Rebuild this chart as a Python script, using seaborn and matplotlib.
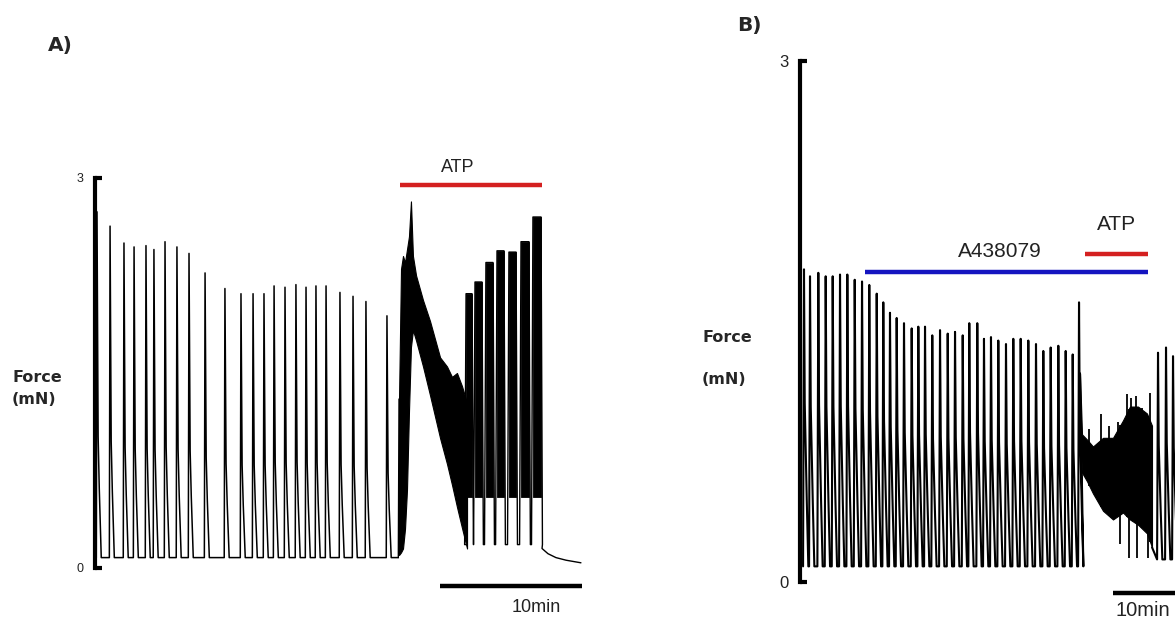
import numpy as np
import pandas as pd
import matplotlib
matplotlib.use("Agg")
import matplotlib.pyplot as plt
import seaborn as sns

# ---------------- Panel A data (time in min, force in mN) ----------------
a_spike_t = [0.07, 0.99, 1.97, 2.68, 3.52, 4.08, 4.86, 5.70, 6.55, 7.68, 9.08, 10.21,
             11.06, 11.83, 12.54, 13.31, 14.08, 14.79, 15.49, 16.20, 17.18, 18.10, 19.01, 20.49]
a_spike_peak = [2.74, 2.63, 2.50, 2.47, 2.48, 2.45, 2.51, 2.47, 2.42, 2.27, 2.15, 2.11,
                2.11, 2.11, 2.17, 2.16, 2.18, 2.16, 2.17, 2.17, 2.12, 2.09, 2.05, 1.94]
a_base = 0.08

a_band_t = [21.34, 21.48, 21.62, 21.76, 21.90, 22.04, 22.18, 22.32, 22.54, 23.03, 23.52,
            24.23, 24.72, 25.07, 25.42, 25.77, 26.13]
a_band_hi = [1.30, 2.30, 2.40, 2.35, 2.45, 2.55, 2.82, 2.40, 2.25, 2.06, 1.90,
             1.62, 1.55, 1.47, 1.50, 1.40, 1.27]
a_band_lo = [0.10, 0.12, 0.15, 0.30, 0.60, 1.20, 1.70, 1.83, 1.75, 1.55, 1.33,
             1.00, 0.80, 0.64, 0.47, 0.31, 0.15]

a_burst_start = [26.06, 26.69, 27.46, 28.24, 29.08, 29.93, 30.77]
a_burst_end = [26.48, 27.18, 27.96, 28.73, 29.58, 30.49, 31.34]
a_burst_top = [2.11, 2.20, 2.35, 2.44, 2.43, 2.51, 2.70]
a_burst_floor = 0.55
a_burst_trough = 0.18

a_tail_t = [31.41, 31.83, 32.39, 33.10, 34.15]
a_tail_y = [0.15, 0.11, 0.08, 0.06, 0.04]

# ---------------- Panel B data ----------------
b_spike_t = [0.16, 1.13, 2.47, 3.66, 4.79, 5.97, 7.15, 8.34, 9.52, 10.69, 11.89, 12.95,
             14.03, 15.11, 16.29, 17.53, 18.60, 19.68, 20.85, 22.10, 23.34, 24.52, 25.76,
             26.82, 28.11, 29.19, 30.32, 31.50, 32.74, 33.92, 35.11, 36.34, 37.58, 38.76,
             39.95, 41.18, 42.37, 43.50, 44.52]
b_spike_peak = [1.80, 1.76, 1.78, 1.76, 1.76, 1.77, 1.77, 1.74, 1.73, 1.71, 1.66, 1.61,
                1.55, 1.52, 1.49, 1.46, 1.47, 1.47, 1.42, 1.45, 1.43, 1.44, 1.42,
                1.49, 1.49, 1.40, 1.41, 1.39, 1.37, 1.40, 1.40, 1.39, 1.37, 1.33,
                1.35, 1.36, 1.33, 1.31, 1.61]
b_base = 0.09

b_band_t = [44.68, 45.00, 45.81, 46.77, 48.39, 50.00, 51.61, 52.74, 54.03, 55.48, 56.29]
b_band_hi = [1.20, 0.85, 0.82, 0.78, 0.83, 0.83, 0.93, 1.01, 1.01, 0.97, 0.90]
b_band_lo = [0.90, 0.63, 0.58, 0.51, 0.41, 0.36, 0.40, 0.36, 0.33, 0.28, 0.20]
b_band_spike_t = [46.2, 48.06, 49.4, 50.8, 52.26, 52.90, 53.71, 54.6, 55.97]
b_band_spike_peak = [0.88, 0.97, 0.90, 0.92, 1.08, 1.06, 1.07, 1.00, 1.09]
b_band_dip_t = [51.2, 52.58, 53.90, 55.65]
b_band_dip_y = [0.22, 0.14, 0.14, 0.14]

b_post_t = [57.26, 58.55, 59.68]
b_post_peak = [1.32, 1.35, 1.30]
b_post_base = 0.13

# ---------------- style ----------------
sns.set_style("white")
plt.rcParams['font.family'] = ['Liberation Sans', 'DejaVu Sans']

W, H = 1175, 620
fig = plt.figure(figsize=(W / 100, H / 100), dpi=100)

RED = '#d42020'
BLUE = '#1414c0'
TXT = '#222222'
BOLD = ['DejaVu Sans']


def spike_path(ts, ps, base, rise, fall1, fall2, end, mid=0.35, low=0.2):
    xs, ys = [], []
    for t, p in zip(ts, ps):
        xs += [t - rise, t, t + fall1, t + fall2, t + end]
        ys += [base, p, base + mid * (p - base), base + low * (p - base), base]
    return xs, ys


def bracket_axis(ax, xpos, labelsize, pad):
    for s in ['top', 'right', 'bottom']:
        ax.spines[s].set_visible(False)
    ax.spines['left'].set_position(('data', xpos))
    ax.spines['left'].set_bounds(0, 3)
    ax.spines['left'].set_linewidth(3)
    ax.spines['left'].set_color('black')
    ax.set_yticks([0, 3])
    ax.set_yticklabels(['0', '3'])
    ax.set_xticks([])
    ax.tick_params(axis='y', left=True, direction='in', length=5, width=3, color='black',
                   labelsize=labelsize, pad=pad, labelcolor=TXT)
    ax.set_facecolor('none')


# ================= Panel A =================
axA = fig.add_axes([60 / W, 0, 560 / W, 1])
axA.set_xlim((60 - 96) / 14.2, (620 - 96) / 14.2)
axA.set_ylim(-(620 - 568) / 130, 568 / 130)

xs, ys = spike_path(a_spike_t, a_spike_peak, a_base, 0.05, 0.08, 0.16, 0.3)
xs = [0.0] + xs + [a_band_t[0] - 0.05]
ys = [0.1] + ys + [a_base]
sns.lineplot(x=xs, y=ys, ax=axA, color='black', lw=1.1, sort=False, estimator=None)

axA.fill_between(a_band_t, a_band_lo, a_band_hi, color='black', lw=0.8, edgecolor='black')
axA.plot([a_band_t[0] - 0.05, a_band_t[0]], [a_base, a_band_hi[0]], color='black', lw=1.0)

bx, by = [a_band_t[-1]], [a_burst_trough]
for s, e, top in zip(a_burst_start, a_burst_end, a_burst_top):
    bx += [s - 0.1, s, e, e + 0.1]
    by += [a_burst_trough, top, top, a_burst_trough]
    axA.fill_between([s, e], [a_burst_floor] * 2, [top] * 2, color='black', lw=0.6,
                     edgecolor='black')
bx += a_tail_t
by += a_tail_y
sns.lineplot(x=bx, y=by, ax=axA, color='black', lw=1.0, sort=False, estimator=None)

bracket_axis(axA, (95 - 96) / 14.2, 9, 8)

axA.plot([(400 - 96) / 14.2, (542 - 96) / 14.2], [2.946, 2.946], color=RED, lw=3.2,
         solid_capstyle='butt')
axA.text((458 - 96) / 14.2, 3.077, 'ATP', ha='center', va='center', fontsize=13, color=TXT)
axA.plot([(440 - 96) / 14.2, (582 - 96) / 14.2], [-0.138, -0.138], color='black', lw=3.2,
         solid_capstyle='butt')
axA.text((536 - 96) / 14.2, -0.30, '10min', ha='center', va='center', fontsize=13, color=TXT)

# ================= Panel B =================
axB = fig.add_axes([700 / W, 0, 475 / W, 1])
axB.set_xlim((700 - 803) / 6.2, (1175 - 803) / 6.2)
axB.set_ylim(-(620 - 582) / 173.7, 582 / 173.7)

xs, ys = spike_path(b_spike_t, b_spike_peak, b_base, 0.15, 0.12, 0.45, 0.7, mid=0.55, low=0.22)
xs = xs + [b_band_t[0]]
ys = ys + [b_band_hi[0]]
sns.lineplot(x=xs, y=ys, ax=axB, color='black', lw=1.5, sort=False, estimator=None)

axB.fill_between(b_band_t, b_band_lo, b_band_hi, color='black', lw=0.8, edgecolor='black')
lvl = np.interp(b_band_spike_t, b_band_t, b_band_lo)
axB.vlines(b_band_spike_t, lvl, b_band_spike_peak, color='black', lw=1.3)
lvl2 = np.interp(b_band_dip_t, b_band_t, b_band_hi)
axB.vlines(b_band_dip_t, b_band_dip_y, lvl2, color='black', lw=1.3)

xs, ys = spike_path(b_post_t, b_post_peak, b_post_base, 0.15, 0.12, 0.45, 0.7, mid=0.55, low=0.22)
xs = [b_band_t[-1]] + xs
ys = [b_band_lo[-1]] + ys
sns.lineplot(x=xs, y=ys, ax=axB, color='black', lw=1.5, sort=False, estimator=None)

bracket_axis(axB, (800 - 803) / 6.2, 12, 8)

axB.plot([(865 - 803) / 6.2, (1148 - 803) / 6.2], [1.785, 1.785], color=BLUE, lw=3.2,
         solid_capstyle='butt')
axB.plot([(1085 - 803) / 6.2, (1148 - 803) / 6.2], [1.89, 1.89], color=RED, lw=3.2,
         solid_capstyle='butt')
axB.text((1000 - 803) / 6.2, 1.90, 'A438079', ha='center', va='center', fontsize=15, color=TXT)
axB.text((1117 - 803) / 6.2, 2.06, 'ATP', ha='center', va='center', fontsize=15, color=TXT)
axB.plot([(1113 - 803) / 6.2, (1175 - 803) / 6.2], [-0.063, -0.063], color='black', lw=3.2,
         solid_capstyle='butt', clip_on=False)
axB.text((1143 - 803) / 6.2, -0.163, '10min', ha='center', va='center', fontsize=14.5, color=TXT)

# ================= labels =================
fig.text(48 / W, 1 - 45 / H, 'A)', fontsize=14.5, fontweight='bold', ha='left', va='center',
         family=BOLD)
fig.text(737 / W, 1 - 25 / H, 'B)', fontsize=14.5, fontweight='bold', ha='left', va='center',
         family=BOLD)
fig.text(12 / W, 1 - 378 / H, 'Force', fontsize=11.5, fontweight='bold', ha='left', va='center',
         family=BOLD)
fig.text(12 / W, 1 - 399 / H, '(mN)', fontsize=11.5, fontweight='bold', ha='left', va='center',
         family=BOLD)
fig.text(702 / W, 1 - 338 / H, 'Force', fontsize=11.5, fontweight='bold', ha='left', va='center',
         family=BOLD)
fig.text(702 / W, 1 - 380 / H, '(mN)', fontsize=11.5, fontweight='bold', ha='left', va='center',
         family=BOLD)

fig.savefig('out.png', dpi=100)
